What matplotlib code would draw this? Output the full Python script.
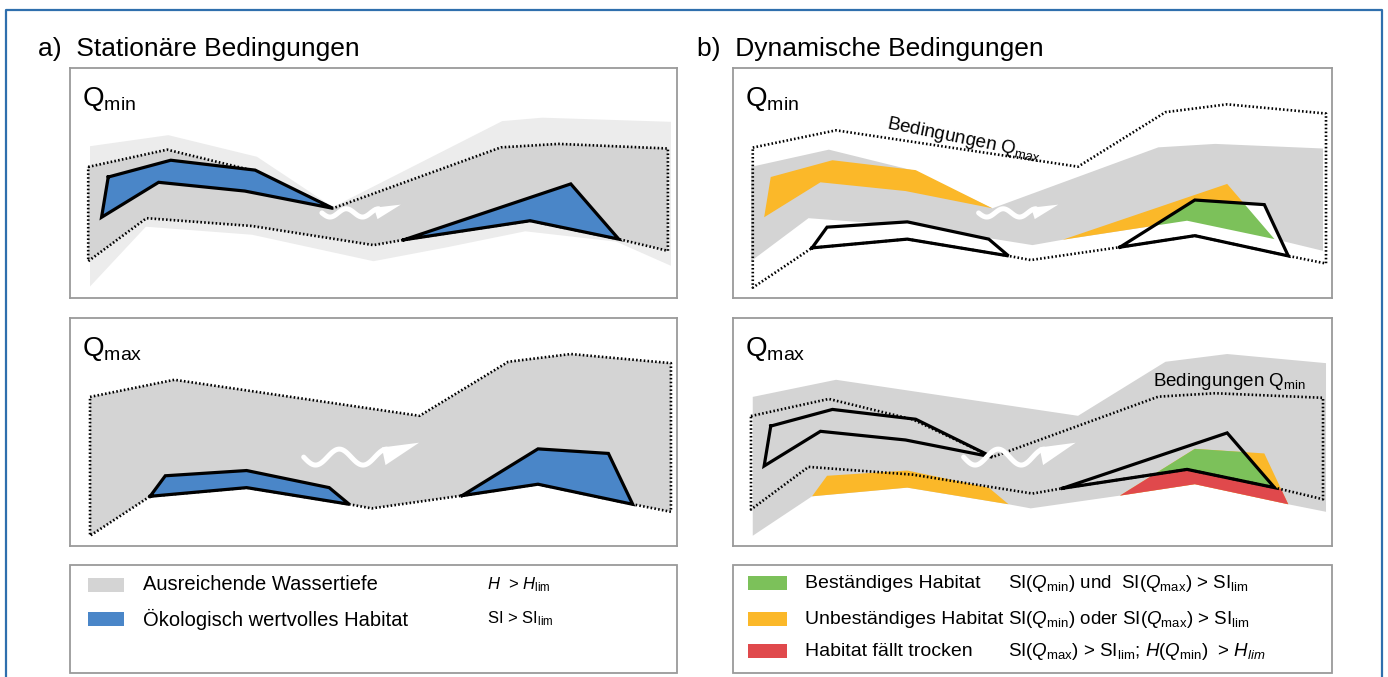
import numpy as np
import matplotlib

matplotlib.use("Agg")
import matplotlib.pyplot as plt
from matplotlib.patches import Polygon, Rectangle

plt.rcParams["font.family"] = "Liberation Sans"
plt.rcParams["mathtext.fontset"] = "custom"
plt.rcParams["mathtext.rm"] = "Liberation Sans"
plt.rcParams["mathtext.it"] = "Liberation Sans:italic"
plt.rcParams["mathtext.bf"] = "Liberation Sans:bold"

W, H = 1388, 677

# river outlines, in percent of panel width / height (y counted from top)
HALO_TOP = [(3.3, 34), (16.2, 29.2), (30.8, 38.6), (43.3, 60.5), (71.2, 23.1), (77.8, 21.6), (99, 23.4)]
HALO_BOT = [(3.3, 95), (12.5, 69), (30, 72.5), (50, 84), (62, 78), (75, 71), (90, 75.5), (99, 86)]

WET_QMIN_TOP = [(3, 43), (16, 35.5), (30, 44.5), (43.3, 61), (71, 34.5), (80.5, 33), (98.5, 35)]
WET_QMIN_BOT = [(3, 84), (12.6, 65.3), (30, 68.7), (50, 77), (55, 74.7), (75.8, 66.4), (90.4, 74.4), (98.5, 79.5)]

WET_QMAX_TOP = [(3.3, 34.6), (17.2, 27.1), (57.6, 42.9), (72.2, 19.2), (82.5, 15.8), (99, 19.8)]
WET_QMAX_BOT = [(3.3, 95.5), (13.2, 78.2), (29.1, 74.4), (46, 81.7), (49.7, 83.5), (64.6, 77.9),
                (77.1, 72.9), (92.7, 81.7), (99, 85)]

# habitat patches at low and high discharge
HAB_QMIN_L = [(6.3, 47.4), (16.6, 40.1), (30.5, 44.4), (43.3, 61), (28.8, 53.5), (14.6, 49.7), (5.2, 64.9)]
HAB_QMIN_R = [(55, 74.7), (82.5, 50.4), (90.4, 74.4), (75.8, 66.4)]
HAB_QMAX_L = [(13.2, 78.2), (15.7, 69.2), (29.1, 66.9), (42.7, 74.4), (46, 81.7), (29.1, 74.4)]
HAB_QMAX_R = [(64.6, 77.9), (77.1, 57.4), (88.7, 59.4), (92.7, 81.7), (77.1, 72.9)]

# legend
LEG_A_LABELS = ["Ausreichende Wassertiefe", "Ökologisch wertvolles Habitat"]
LEG_A_RULES = [r"$H$  > $H_{\mathrm{lim}}$", r"SI > SI$_{\mathrm{lim}}$"]
LEG_B_LABELS = ["Beständiges Habitat", "Unbeständiges Habitat", "Habitat fällt trocken"]
LEG_B_RULES = [
    r"SI($Q_{\mathrm{min}}$) und  SI($Q_{\mathrm{max}}$) > SI$_{\mathrm{lim}}$",
    r"SI($Q_{\mathrm{min}}$) oder SI($Q_{\mathrm{max}}$) > SI$_{\mathrm{lim}}$",
    r"SI($Q_{\mathrm{max}}$) > SI$_{\mathrm{lim}}$; $H$($Q_{\mathrm{min}}$)  > $H_{lim}$",
]

GRAY = "#d4d4d4"
HALO = "#ececec"
BLUE = "#4a86c8"
ORANGE = "#fbb829"
GREEN = "#7cc15a"
RED = "#e0494c"
FRAME = "#9a9a9a"
EDGE_BLUE = "#2f6fad"

fig = plt.figure(figsize=(W / 100, H / 100), dpi=100)
bg = fig.add_axes([0, 0, 1, 1])
bg.set_xlim(0, W)
bg.set_ylim(H, 0)
bg.axis("off")


def panel(x0, y0, x1, y1):
    ax = fig.add_axes([x0 / W, 1 - y1 / H, (x1 - x0) / W, (y1 - y0) / H])
    ax.set_xlim(0, 100)
    ax.set_ylim(100, 0)
    ax.set_xticks([])
    ax.set_yticks([])
    for s in ax.spines.values():
        s.set_color(FRAME)
        s.set_linewidth(1.3)
    return ax


def band(top, bot):
    return np.array(top + bot[::-1])


def fill(ax, pts, color, z, clip=None):
    p = Polygon(np.asarray(pts), closed=True, facecolor=color, edgecolor="none", zorder=z)
    ax.add_patch(p)
    if clip is not None:
        p.set_clip_path(Polygon(np.asarray(clip), closed=True, transform=ax.transData))
    return p


def outline(ax, pts, z, dotted=False):
    pts = np.asarray(pts)
    c = np.vstack([pts, pts[:1]])
    if dotted:
        ax.plot(c[:, 0], c[:, 1], color="black", lw=1.9, ls=(0, (0.6, 0.85)),
                dash_capstyle="butt", zorder=z)
    else:
        ax.plot(c[:, 0], c[:, 1], color="black", lw=2.3, solid_joinstyle="miter", zorder=z)


def wave_arrow(ax, x0, x1, y, amp, head_h):
    t = np.linspace(0, 1, 120)
    xe = x0 + (x1 - x0) * 0.72
    xs = x0 + (xe - x0) * t
    ys = y + amp * np.sin(3.5 * np.pi * t)
    ax.plot(xs, ys, color="white", lw=3.6, solid_capstyle="round", zorder=8)
    head = [(xe - 0.8, y - amp - head_h * 0.1), (x1, y - amp - head_h * 0.4),
            (xe - 0.2, y - amp + head_h)]
    ax.add_patch(Polygon(head, facecolor="white", edgecolor="none", zorder=8))


def q_label(ax, sub):
    ax.text(2.0, 16.5, r"Q$_{\mathrm{%s}}$" % sub, fontsize=20, va="baseline", zorder=9)


wet_qmin = band(WET_QMIN_TOP, WET_QMIN_BOT)
wet_qmax = band(WET_QMAX_TOP, WET_QMAX_BOT)
halo = band(HALO_TOP, HALO_BOT)
dry_qmin = np.array(WET_QMIN_BOT + [(WET_QMIN_BOT[-1][0], 100), (WET_QMIN_BOT[0][0], 100)])

# a) stationary, low discharge
ax = panel(70, 68, 677, 298)
fill(ax, halo, HALO, 1)
fill(ax, wet_qmin, GRAY, 2)
outline(ax, wet_qmin, 3, dotted=True)
for hab in (HAB_QMIN_L, HAB_QMIN_R):
    fill(ax, hab, BLUE, 4)
    outline(ax, hab, 5)
wave_arrow(ax, 41.5, 54.5, 63, 1.8, 4.5)
q_label(ax, "min")

# a) stationary, high discharge
ax = panel(70, 318, 677, 546)
fill(ax, wet_qmax, GRAY, 2)
outline(ax, wet_qmax, 3, dotted=True)
for hab in (HAB_QMAX_L, HAB_QMAX_R):
    fill(ax, hab, BLUE, 4)
    outline(ax, hab, 5)
wave_arrow(ax, 38.5, 57.5, 61, 3.5, 7)
q_label(ax, "max")

# b) dynamic, low discharge
ax = panel(733, 68, 1332, 298)
fill(ax, wet_qmin, GRAY, 2)
for hab in (HAB_QMIN_L, HAB_QMIN_R):
    fill(ax, hab, ORANGE, 3)
for hab in (HAB_QMAX_L, HAB_QMAX_R):
    fill(ax, hab, "white", 4)
fill(ax, HAB_QMIN_R, GREEN, 5, clip=HAB_QMAX_R)
for hab in (HAB_QMAX_L, HAB_QMAX_R):
    outline(ax, hab, 6)
outline(ax, wet_qmax, 6, dotted=True)
ax.text(38.5, 31, r"Bedingungen Q$_{\mathrm{max}}$", fontsize=13.5, rotation=-11.5,
        rotation_mode="anchor", ha="center", va="center", zorder=9)
wave_arrow(ax, 41.0, 54.3, 63, 1.8, 4.5)
q_label(ax, "min")

# b) dynamic, high discharge
ax = panel(733, 318, 1332, 546)
fill(ax, wet_qmax, GRAY, 2)
for hab in (HAB_QMAX_L, HAB_QMAX_R):
    fill(ax, hab, ORANGE, 3)
fill(ax, HAB_QMAX_R, RED, 4, clip=dry_qmin)
fill(ax, HAB_QMAX_R, GREEN, 5, clip=HAB_QMIN_R)
for hab in (HAB_QMIN_L, HAB_QMIN_R):
    outline(ax, hab, 6)
outline(ax, wet_qmin, 6, dotted=True)
ax.text(70.2, 28, r"Bedingungen Q$_{\mathrm{min}}$", fontsize=13.5, va="center", zorder=9)
wave_arrow(ax, 38.5, 57.2, 61, 3.5, 7)
q_label(ax, "max")

# outer frame and headings
bg.plot([6, 6, 1382, 1382], [H + 10, 10, 10, H + 10], color=EDGE_BLUE, lw=1.6)
bg.text(38, 56, "a)  Stationäre Bedingungen", fontsize=19, va="baseline")
bg.text(697, 56, "b)  Dynamische Bedingungen", fontsize=19, va="baseline")

# legend boxes
bg.add_patch(Rectangle((70, 565), 607, 108, facecolor="white", edgecolor=FRAME, lw=1.3))
bg.add_patch(Rectangle((733, 565), 599, 108, facecolor="white", edgecolor=FRAME, lw=1.3))

for y, lab, rule, col in zip([585, 619], LEG_A_LABELS, LEG_A_RULES, [GRAY, BLUE]):
    bg.add_patch(Rectangle((88, y - 7), 36, 14, facecolor=col, edgecolor="none"))
    bg.text(143, y, lab, fontsize=14.5, va="center")
    bg.text(487, y, rule, fontsize=12, va="center")

for y, lab, rule, col in zip([583, 619, 651], LEG_B_LABELS, LEG_B_RULES, [GREEN, ORANGE, RED]):
    bg.add_patch(Rectangle((748, y - 7), 39, 14, facecolor=col, edgecolor="none"))
    bg.text(805, y, lab, fontsize=14, va="center")
    bg.text(1008, y, rule, fontsize=13.5, va="center")

fig.savefig("out.png", dpi=100)
